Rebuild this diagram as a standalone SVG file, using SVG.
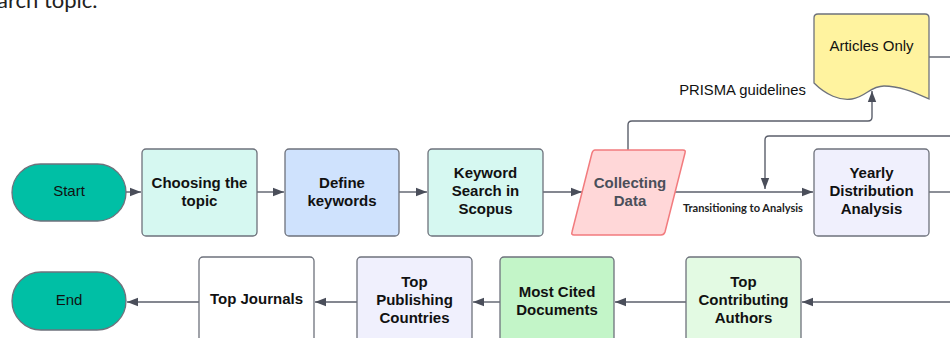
<svg xmlns="http://www.w3.org/2000/svg" width="950" height="338" viewBox="0 0 950 338">
<style>
.n{stroke:#6e727c;stroke-width:1.3}
.t{font-family:"Liberation Sans",Arial,sans-serif;font-size:15px;font-weight:bold;fill:#111;text-anchor:middle;dominant-baseline:central}
.r{font-family:"Liberation Sans",Arial,sans-serif;font-size:15px;fill:#111;text-anchor:middle;dominant-baseline:central}
.c{fill:none;stroke:#5b5f6b;stroke-width:1.4}
</style>
<defs>
<marker id="ah" markerWidth="12" markerHeight="10" refX="11" refY="5" orient="auto" markerUnits="userSpaceOnUse">
<path d="M0,0.8 L11,5 L0,9.2 Z" fill="#4a4e5a"/>
</marker>
</defs>
<rect width="950" height="338" fill="#fff"/>
<text x="-3" y="8" font-family="Lato,'Open Sans',sans-serif" font-size="22" fill="#222">arch topic.</text>

<g id="connectors">
<path class="c" d="M126,192 H141" marker-end="url(#ah)"/>
<path class="c" d="M257,192 H284" marker-end="url(#ah)"/>
<path class="c" d="M399,192 H427" marker-end="url(#ah)"/>
<path class="c" d="M543,192 H582" marker-end="url(#ah)"/>
<path class="c" d="M675,192 H813" marker-end="url(#ah)"/>
<path class="c" d="M628,150 V125 Q628,121 632,121 H868 Q872,121 872,117 V91" marker-end="url(#ah)"/>
<path class="c" d="M950,136 H769 Q765,136 765,140 V189" marker-end="url(#ah)"/>
<path class="c" d="M929,57 H950"/>
<path class="c" d="M929,192 H950"/>
<path class="c" d="M950,302 H802" marker-end="url(#ah)"/>
<path class="c" d="M686,302 H615" marker-end="url(#ah)"/>
<path class="c" d="M500,302 H473" marker-end="url(#ah)"/>
<path class="c" d="M357,302 H315" marker-end="url(#ah)"/>
<path class="c" d="M199,302 H127" marker-end="url(#ah)"/>
<text x="743" y="207.5" font-family="Lato,'Liberation Sans',sans-serif" font-size="10.5" font-weight="bold" fill="#222" text-anchor="middle" dominant-baseline="central" textLength="120" lengthAdjust="spacingAndGlyphs">Transitioning to Analysis</text>
<text x="742.5" y="90" class="r" style="font-size:14.8px">PRISMA guidelines</text>
</g>

<g id="start">
<rect class="n" x="12" y="164" width="114" height="57" rx="28.5" fill="#00bfa5"/>
<text class="r" x="69" y="190.5">Start</text>
</g>
<g id="choosing">
<rect class="n" x="142" y="149" width="115" height="87" rx="4" fill="#d6f8f1"/>
<text class="t" x="199.5" y="182">Choosing the</text>
<text class="t" x="199.5" y="200">topic</text>
</g>
<g id="define">
<rect class="n" x="285" y="149" width="114" height="87" rx="4" fill="#cfe2fd"/>
<text class="t" x="342" y="182">Define</text>
<text class="t" x="342" y="200">keywords</text>
</g>
<g id="search">
<rect class="n" x="428" y="149" width="115" height="87" rx="4" fill="#d6f8f1"/>
<text class="t" x="485.5" y="172">Keyword</text>
<text class="t" x="485.5" y="190">Search in</text>
<text class="t" x="485.5" y="208">Scopus</text>
</g>
<g id="collecting">
<path d="M595,150 H683 Q686,150 685,153 L665,232 Q664,235 661,235 H574 Q571,235 572,232 L592,153 Q593,150 595,150 Z" fill="#ffd7d8" stroke="#f27b7e" stroke-width="1.5"/>
<text class="t" x="630" y="182" style="fill:#4a4f5a">Collecting</text>
<text class="t" x="630" y="200" style="fill:#4a4f5a">Data</text>
</g>
<g id="articles">
<path class="n" d="M818,14 H925 Q929,14 929,18 V99 C915,93 900,86 884,86 C870,86 866,97 852,99 C840,101 826,95 814,83 V18 Q814,14 818,14 Z" fill="#fff39f"/>
<text class="r" x="871.5" y="45">Articles Only</text>
</g>
<g id="yearly">
<rect class="n" x="814" y="149" width="115" height="87" rx="4" fill="#f0f0fd"/>
<text class="t" x="871.5" y="172">Yearly</text>
<text class="t" x="871.5" y="190">Distribution</text>
<text class="t" x="871.5" y="208">Analysis</text>
</g>
<g id="end">
<rect class="n" x="12" y="272" width="114" height="58" rx="29" fill="#00bfa5"/>
<text class="r" x="69" y="299.5">End</text>
</g>
<g id="journals">
<rect class="n" x="199" y="257" width="115" height="87" rx="4" fill="#ffffff"/>
<text class="t" x="256.5" y="298">Top Journals</text>
</g>
<g id="countries">
<rect class="n" x="357" y="257" width="115" height="87" rx="4" fill="#f0f0fd"/>
<text class="t" x="414.5" y="281">Top</text>
<text class="t" x="414.5" y="299">Publishing</text>
<text class="t" x="414.5" y="317">Countries</text>
</g>
<g id="cited">
<rect class="n" x="500" y="257" width="114" height="87" rx="4" fill="#c3f5c8"/>
<text class="t" x="557" y="291">Most Cited</text>
<text class="t" x="557" y="309">Documents</text>
</g>
<g id="authors">
<rect class="n" x="686" y="257" width="115" height="87" rx="4" fill="#e3fae3"/>
<text class="t" x="743.5" y="281">Top</text>
<text class="t" x="743.5" y="299">Contributing</text>
<text class="t" x="743.5" y="317">Authors</text>
</g>
</svg>
